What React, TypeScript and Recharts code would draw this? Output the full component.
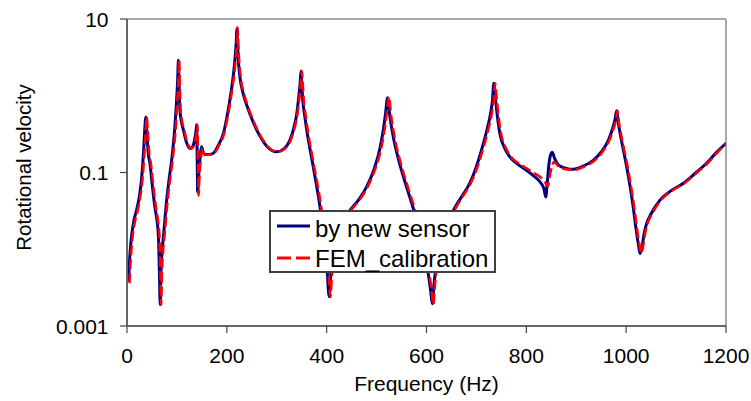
import React from 'react';
import { LineChart, Line, XAxis, YAxis, ReferenceLine, Legend } from 'recharts';

const FONT = '"Liberation Sans", Arial, Helvetica, sans-serif';

const xTicks = [0, 200, 400, 600, 800, 1000, 1200];
const yTicks = [0.001, 0.1, 10];
const seriesNames = ['by new sensor', 'FEM_calibration'];
const xTitle = 'Frequency (Hz)';
const yTitle = 'Rotational velocity';

// [frequency Hz, rotational velocity]
const sensorPoints: [number, number][] = [
  [3, 0.0038], [6, 0.0088], [9, 0.0145], [14, 0.024], [19, 0.032], [25, 0.05], [29, 0.08],
  [33, 0.18], [36, 0.4], [37.5, 0.53], [39.5, 0.36], [42.5, 0.18], [46, 0.13], [51, 0.065],
  [56, 0.035], [60, 0.024], [63, 0.0145], [65, 0.0048], [66.5, 0.0019], [68, 0.0048],
  [70, 0.0088], [73, 0.0145], [79.5, 0.044], [85, 0.088], [89.5, 0.145], [93, 0.24],
  [96, 0.4], [99, 0.79], [101.5, 1.6], [103, 2.9], [104.5, 1.3], [106, 0.65], [109, 0.46],
  [113, 0.36], [118, 0.26], [123, 0.216], [127.5, 0.206], [132, 0.22], [136, 0.28],
  [138.5, 0.36], [139.6, 0.42], [140.6, 0.15], [141.6, 0.056], [143.5, 0.088], [146, 0.145],
  [149.6, 0.216], [152.5, 0.183], [156, 0.172], [165, 0.172], [173, 0.178], [183, 0.227],
  [193, 0.32], [200, 0.52], [205, 0.8], [210, 1.3], [214, 2.1], [217, 3.4], [219, 5.2],
  [220, 7.5], [221.5, 4.8], [223, 3.0], [226, 1.8], [233, 1.05], [240, 0.75], [253, 0.45],
  [266, 0.3], [280, 0.22], [300, 0.186], [315, 0.205], [326, 0.26], [335, 0.4], [340, 0.58],
  [344, 0.95], [347, 1.5], [348.6, 2.1], [350, 1.5], [352, 0.9], [356, 0.55], [360, 0.36],
  [373, 0.12], [386.6, 0.036], [395, 0.014], [400, 0.007], [405, 0.0024], [408, 0.0045],
  [412, 0.009], [416.7, 0.0145], [430, 0.022], [446.7, 0.032], [465, 0.045], [480, 0.065],
  [495, 0.11], [507, 0.21], [513.5, 0.36], [518, 0.59], [522, 0.94], [526.8, 0.53],
  [533.5, 0.29], [547, 0.125], [560, 0.065], [573.5, 0.034], [585, 0.017], [595, 0.009],
  [603, 0.005], [608, 0.003], [611.6, 0.00195], [615, 0.0035], [620, 0.0065], [630, 0.013],
  [653.7, 0.032], [670, 0.048], [687, 0.073], [700, 0.12], [714, 0.24], [722, 0.38],
  [727, 0.53], [732, 0.85], [735, 1.45], [738, 0.95], [740.6, 0.65], [747, 0.32],
  [757, 0.205], [767, 0.16], [785, 0.125], [800, 0.107], [815, 0.09], [827, 0.076],
  [835, 0.062], [839, 0.048], [842, 0.075], [846, 0.14], [850, 0.178], [852, 0.183],
  [857, 0.15], [864, 0.126], [880, 0.113], [894, 0.11], [915, 0.122], [934, 0.144],
  [950, 0.185], [964, 0.26], [972, 0.36], [978, 0.5], [981, 0.64], [984, 0.45], [988, 0.32],
  [1001, 0.119], [1008, 0.065], [1014, 0.036], [1020, 0.018], [1025, 0.011], [1028, 0.0088],
  [1032, 0.011], [1036, 0.016], [1041, 0.0217], [1050, 0.029], [1068, 0.044], [1090, 0.058],
  [1114, 0.072], [1140, 0.1], [1161, 0.132], [1180, 0.18], [1200, 0.24],
];

const femPoints: [number, number][] = [
  [5, 0.0036], [8, 0.0082], [11, 0.014], [16, 0.023], [21, 0.031], [27, 0.05], [31, 0.08],
  [35, 0.18], [38, 0.4], [39.5, 0.53], [41.5, 0.36], [44.5, 0.18], [48, 0.13], [53, 0.065],
  [58, 0.035], [62, 0.024], [65, 0.0145], [67, 0.0048], [68.5, 0.0019], [70, 0.0048],
  [72, 0.0088], [75, 0.0145], [81.5, 0.044], [87, 0.088], [91.5, 0.145], [95, 0.24],
  [98, 0.4], [100.5, 0.79], [103, 1.6], [104.5, 2.9], [106, 1.3], [107.5, 0.65],
  [110.5, 0.46], [114.5, 0.36], [119.5, 0.26], [124.5, 0.216], [129, 0.206], [133.5, 0.22],
  [137.5, 0.28], [140, 0.36], [141.2, 0.42], [142.2, 0.15], [143.4, 0.05], [145, 0.085],
  [147.5, 0.14], [151, 0.21], [154, 0.18], [157.5, 0.17], [166.5, 0.172], [174.5, 0.178],
  [184.5, 0.227], [194.5, 0.32], [201.5, 0.52], [206.5, 0.8], [211.5, 1.3], [215.5, 2.1],
  [218.5, 3.4], [220.5, 5.2], [221.5, 7.8], [223, 4.8], [224.5, 3.0], [227.5, 1.8],
  [234.5, 1.05], [241.5, 0.75], [254.5, 0.45], [267.5, 0.3], [281.5, 0.22], [301.5, 0.186],
  [316.5, 0.205], [327.5, 0.26], [336.5, 0.4], [341.5, 0.58], [345.5, 0.95], [348.5, 1.5],
  [350.5, 2.1], [352, 1.5], [354, 0.9], [358, 0.55], [362, 0.36], [375, 0.12], [389, 0.036],
  [397.5, 0.014], [402.5, 0.007], [407.5, 0.0024], [410.5, 0.0045], [414.5, 0.009],
  [419, 0.0145], [432, 0.022], [448.5, 0.032], [467, 0.045], [482, 0.065], [497, 0.11],
  [509.5, 0.21], [516, 0.36], [520.5, 0.59], [524.5, 0.97], [529.5, 0.53], [536, 0.29],
  [549.5, 0.125], [562.5, 0.065], [576, 0.034], [587, 0.017], [597, 0.009], [605, 0.005],
  [610, 0.003], [613.6, 0.0019], [617, 0.0035], [622, 0.0065], [632, 0.013], [656, 0.032],
  [672, 0.048], [689, 0.073], [702.5, 0.12], [716.5, 0.24], [724.5, 0.38], [729.5, 0.53],
  [734.5, 0.85], [737.5, 1.45], [740.5, 0.95], [743, 0.65], [749.5, 0.32], [759.5, 0.205],
  [769.5, 0.16], [787, 0.128], [802, 0.112], [817, 0.097], [829, 0.086], [837, 0.076],
  [843, 0.066], [847, 0.09], [852, 0.125], [855, 0.138], [860, 0.13], [866, 0.118],
  [882, 0.11], [896, 0.108], [917, 0.12], [936, 0.142], [952, 0.183], [966, 0.26],
  [974, 0.36], [980, 0.5], [982.5, 0.64], [985.5, 0.45], [989.5, 0.32], [1003, 0.119],
  [1010, 0.065], [1016, 0.036], [1022, 0.018], [1027, 0.011], [1030, 0.0088], [1034, 0.011],
  [1038, 0.016], [1043, 0.0217], [1052, 0.029], [1070, 0.044], [1092, 0.058], [1116, 0.072],
  [1142, 0.1], [1163, 0.132], [1182, 0.18], [1200, 0.24],
];

const sensorData = sensorPoints.map(([f, v]) => ({ f, v }));
const femData = femPoints.map(([f, v]) => ({ f, v }));

const BLUE = '#000080';
const RED = '#ff0000';

function LegendBox() {
  return (
    <svg width={227} height={63} style={{ display: 'block' }}>
      <rect x={1} y={1} width={225} height={61} fill="#ffffff" stroke="#404040" strokeWidth={2} />
      <line x1={8} x2={41} y1={16} y2={16} stroke={BLUE} strokeWidth={3} />
      <text x={46} y={27} fontSize={24} fontFamily={FONT} fill="#000">{seriesNames[0]}</text>
      <line x1={8} x2={41} y1={48} y2={48} stroke={RED} strokeWidth={3} strokeDasharray="14 5" />
      <text x={46} y={57} fontSize={24} fontFamily={FONT} fill="#000">{seriesNames[1]}</text>
    </svg>
  );
}

const tickStyle = { fontSize: 21, fill: '#000', fontFamily: FONT };

function YTick(props: any) {
  const { y, payload } = props;
  return (
    <text x={108.5} y={y} dy="0.36em" textAnchor="end" fontSize={21} fontFamily={FONT} fill="#000">
      {String(payload.value)}
    </text>
  );
}

export default function App() {
  return (
    <div style={{ position: 'absolute', left: 0, top: 0, fontFamily: FONT, background: '#fff' }}>
      <LineChart width={751} height={401} margin={{ top: 19, right: 25, bottom: 0, left: 0 }}>
        <XAxis
          type="number"
          dataKey="f"
          domain={[0, 1200]}
          ticks={xTicks}
          allowDataOverflow
          height={75}
          tickSize={7}
          tickMargin={15}
          tick={tickStyle}
          fontSize={21}
          axisLine={{ stroke: '#666', strokeWidth: 2 }}
          tickLine={{ stroke: '#444', strokeWidth: 1.2 }}
          label={{ value: xTitle, position: 'insideBottom', offset: 10, style: { fontSize: 21, fill: '#000', fontFamily: FONT } }}
        />
        <YAxis
          type="number"
          dataKey="v"
          scale="log"
          domain={[0.001, 10]}
          ticks={yTicks}
          allowDataOverflow
          width={127}
          tickSize={7}
          tick={<YTick />}
          axisLine={{ stroke: '#666', strokeWidth: 2 }}
          tickLine={{ stroke: '#444', strokeWidth: 1.2 }}
          label={{
            content: () => (
              <text
                x={31}
                y={167.5}
                transform="rotate(-90 31 167.5)"
                textAnchor="middle"
                fontSize={20.5}
                fontFamily={FONT}
                fill="#000"
              >
                {yTitle}
              </text>
            ),
          }}
        />
        <ReferenceLine y={10} stroke="#a8a8a8" strokeWidth={2} ifOverflow="visible" />
        <ReferenceLine x={1200} stroke="#a8a8a8" strokeWidth={2} ifOverflow="visible" />
        <Line
          data={sensorData}
          dataKey="v"
          name={seriesNames[0]}
          type="monotone"
          stroke={BLUE}
          strokeWidth={3}
          dot={false}
          activeDot={false}
          isAnimationActive={false}
        />
        <Line
          data={femData}
          dataKey="v"
          name={seriesNames[1]}
          type="monotone"
          stroke={RED}
          strokeWidth={2.5}
          strokeDasharray="10 4"
          dot={false}
          activeDot={false}
          isAnimationActive={false}
        />
        <Legend
          layout="vertical"
          align="center"
          verticalAlign="middle"
          content={() => <LegendBox />}
          wrapperStyle={{ left: 269, top: 210, width: 227, height: 63 }}
        />
      </LineChart>
    </div>
  );
}
